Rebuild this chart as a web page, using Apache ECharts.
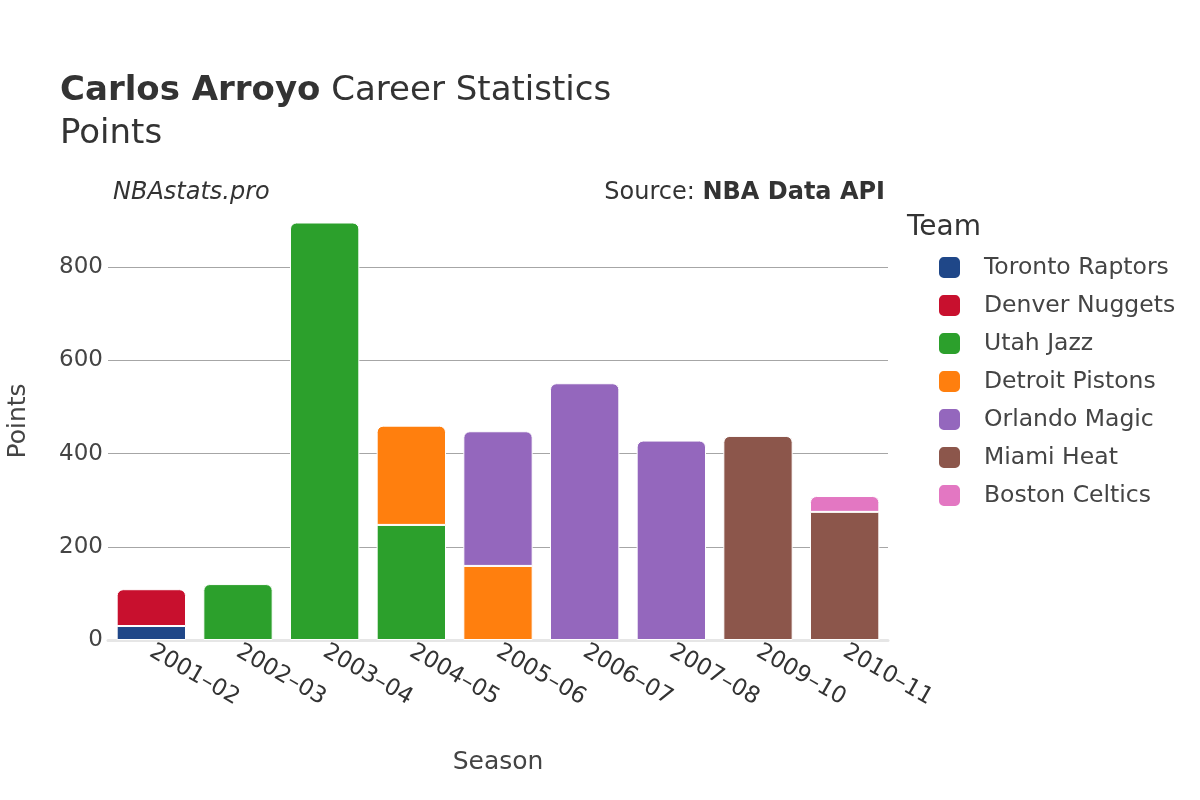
<!DOCTYPE html>
<html><head><meta charset="utf-8">
<script src="https://cdn.jsdelivr.net/npm/echarts@6/dist/echarts.min.js"></script>
<style>html,body{margin:0;padding:0;background:#fff}#c{width:1200px;height:800px}</style>
</head><body><div id="c"></div>
<script>
const seasons = ['2001–02','2002–03','2003–04','2004–05','2005–06','2006–07','2007–08','2009–10','2010–11'];
const teams = ['Toronto Raptors','Denver Nuggets','Utah Jazz','Detroit Pistons','Orlando Magic','Miami Heat','Boston Celtics'];
const teamColors = ['#1f4788','#c8102e','#2ca02c','#ff7f0e','#9467bd','#8c564b','#e377c2'];
const torontoPts = [30, 0, 0, 0, 0, 0, 0, 0, 0];
const denverPts  = [79, 0, 0, 0, 0, 0, 0, 0, 0];
const utahPts    = [0, 120, 896, 247, 0, 0, 0, 0, 0];
const detroitPts = [0, 0, 0, 213, 159, 0, 0, 0, 0];
const orlandoPts = [0, 0, 0, 0, 289, 551, 428, 0, 0];
const miamiPts   = [0, 0, 0, 0, 0, 0, 0, 438, 275];
const bostonPts  = [0, 0, 0, 0, 0, 0, 0, 0, 34];
const yTicks = [0, 200, 400, 600, 800];

const allData = [torontoPts, denverPts, utahPts, detroitPts, orlandoPts, miamiPts, bostonPts];
const FONT = 'DejaVu Sans';

const topIdx = seasons.map((_, c) => {
  let t = -1;
  allData.forEach((arr, s) => { if (arr[c] > 0) t = s; });
  return t;
});

const series = teams.map((name, s) => ({
  name, type: 'bar', stack: 'total', barCategoryGap: '20%',
  itemStyle: { color: teamColors[s], borderColor: '#fff', borderWidth: 1 },
  emphasis: { disabled: true },
  data: allData[s].map((v, c) => ({
    value: v === 0 ? null : v,
    itemStyle: topIdx[c] === s ? { borderRadius: [6, 6, 0, 0] } : { borderRadius: 0 }
  }))
}));

const chart = echarts.init(document.getElementById('c'), null, { renderer: 'canvas' });
chart.setOption({
  animation: false,
  backgroundColor: '#fff',
  textStyle: { fontFamily: FONT },
  grid: { left: 108, right: 312, top: 202, bottom: 160, containLabel: false, outerBoundsMode: 'none' },
  xAxis: {
    type: 'category', data: seasons,
    name: 'Season', nameLocation: 'middle', nameGap: 110,
    nameTextStyle: { fontSize: 25, color: '#444', fontFamily: FONT },
    axisLine: { show: true, lineStyle: { color: '#e6e6e6', width: 3 } },
    axisTick: { show: false },
    axisLabel: { rotate: -30, fontSize: 23, color: '#333', margin: 10, fontFamily: FONT, interval: 0 }
  },
  yAxis: {
    type: 'value', min: 0, max: 940, interval: 200,
    name: 'Points', nameLocation: 'middle', nameGap: 77,
    nameTextStyle: { fontSize: 25, color: '#444', fontFamily: FONT },
    axisLine: { show: false }, axisTick: { show: false },
    axisLabel: { fontSize: 23, color: '#444', margin: 5, showMaxLabel: false, fontFamily: FONT,
      formatter: v => yTicks.includes(v) ? String(v) : '' },
    splitLine: { show: true, showMinLine: false, showMaxLine: false, lineStyle: { color: '#a6a6a6', width: 1 } }
  },
  legend: {
    orient: 'vertical', left: 932, top: 250,
    itemWidth: 23, itemHeight: 23, itemGap: 13, icon: 'roundRect',
    textStyle: { fontSize: 23.5, color: '#444', padding: [0, 0, 0, 18], fontFamily: FONT },
    data: teams
  },
  graphic: [
    { type: 'text', left: 60, top: 74, style: { text: '{b|Carlos Arroyo} Career Statistics', font: '34px ' + FONT, fill: '#333',
      rich: { b: { font: 'bold 34px ' + FONT, fill: '#333' } } } },
    { type: 'text', left: 60, top: 117, style: { text: 'Points', font: '34px ' + FONT, fill: '#333' } },
    { type: 'text', left: 113, top: 181, style: { text: 'NBAstats.pro', font: 'italic 24px ' + FONT, fill: '#333' } },
    { type: 'text', right: 315, top: 181, style: { text: 'Source: {b|NBA Data API}', font: '24px ' + FONT, fill: '#333',
      rich: { b: { font: 'bold 24px ' + FONT, fill: '#333' } } } },
    { type: 'text', left: 907, top: 214, style: { text: 'Team', font: '28px ' + FONT, fill: '#333' } }
  ],
  series
});
</script></body></html>
